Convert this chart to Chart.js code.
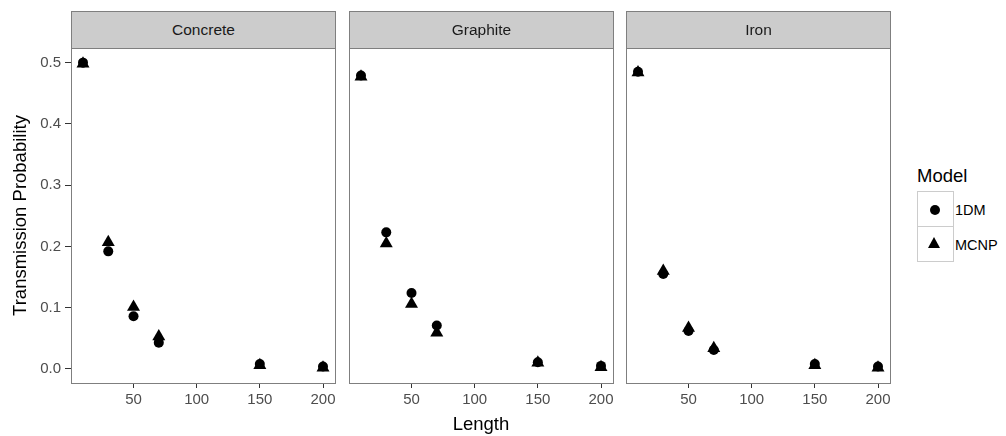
<!DOCTYPE html>
<html>
<head>
<meta charset="utf-8">
<script src="https://cdn.jsdelivr.net/npm/chart.js@4"></script>
<style>
  html, body { margin: 0; padding: 0; background: #fff; }
  #wrap { position: relative; width: 1006px; height: 436px; font-family: "Liberation Sans", Arial, sans-serif; }
  .panel { position: absolute; top: 0; height: 436px; }
  .strip { position: absolute; top: 11px; height: 38px; background: #CCCCCC; border: 1px solid #7F7F7F;
           box-sizing: border-box; color: #1A1A1A; font-size: 15.5px; line-height: 36px; text-align: center; }
  .leg-title { position: absolute; left: 917px; top: 166px; font-size: 18.5px; line-height: 20px; color: #000; }
  .leg-key { position: absolute; left: 917px; width: 37px; height: 36px; border: 1px solid #CCCCCC; box-sizing: border-box; background: #fff; }
  .leg-label { position: absolute; left: 955px; font-size: 14.5px; line-height: 16px; color: #000; }
  .dot { position: absolute; left: 930px; top: 205px; width: 10px; height: 10px; border-radius: 50%; background: #000; }
  .tri { position: absolute; left: 928px; top: 237px; width: 0; height: 0;
         border-left: 6.5px solid transparent; border-right: 6.5px solid transparent; border-bottom: 11px solid #000; }
</style>
</head>
<body>
<div id="wrap">
  <div class="panel" style="left:0px;width:345px"><canvas id="c1"></canvas></div>
  <div class="panel" style="left:339px;width:284px"><canvas id="c2"></canvas></div>
  <div class="panel" style="left:616px;width:284px"><canvas id="c3"></canvas></div>

  <div class="strip" style="left:71px;width:265px">Concrete</div>
  <div class="strip" style="left:349px;width:265px">Graphite</div>
  <div class="strip" style="left:626px;width:265px">Iron</div>

  <div class="leg-title">Model</div>
  <div class="leg-key" style="top:191px"></div>
  <div class="leg-key" style="top:226px"></div>
  <div class="dot"></div>
  <div class="tri"></div>
  <div class="leg-label" style="top:202px">1DM</div>
  <div class="leg-label" style="top:237px">MCNP</div>
</div>

<script>
// Data
const LENGTHS = [10, 30, 50, 70, 150, 200];
const X_TICKS = [50, 100, 150, 200];
const Y_TICKS = [0, 0.1, 0.2, 0.3, 0.4, 0.5];

const CONCRETE_1DM  = [0.500, 0.192, 0.086, 0.043, 0.008, 0.004];
const CONCRETE_MCNP = [0.498, 0.207, 0.101, 0.053, 0.006, 0.002];
const GRAPHITE_1DM  = [0.479, 0.223, 0.124, 0.071, 0.011, 0.005];
const GRAPHITE_MCNP = [0.477, 0.205, 0.106, 0.059, 0.010, 0.003];
const IRON_1DM      = [0.485, 0.155, 0.062, 0.031, 0.008, 0.004];
const IRON_MCNP     = [0.484, 0.160, 0.067, 0.034, 0.006, 0.002];

const FONT  = '"Liberation Sans", Arial, sans-serif';
const TICKC = '#4D4D4D';
const BORDER = '#7F7F7F';

Chart.defaults.font.family = FONT;
Chart.defaults.animation = false;

// panel border drawn over the points, like ggplot
const panelBorder = {
  id: 'panelBorder',
  afterDatasetsDraw(chart) {
    const a = chart.chartArea, ctx = chart.ctx;
    ctx.save();
    ctx.strokeStyle = BORDER;
    ctx.lineWidth = 1;
    ctx.strokeRect(a.left + 0.5, a.top + 0.5, a.right - a.left, a.bottom - a.top);
    ctx.restore();
  }
};

function pts(ys) {
  return LENGTHS.map((x, i) => ({ x: x, y: ys[i] }));
}

function makePanel(id, y1dm, ymcnp, opts) {
  return new Chart(document.getElementById(id), {
    type: 'scatter',
    data: {
      datasets: [
        { label: '1DM',  data: pts(y1dm),  pointStyle: 'circle',   pointRadius: 5,
          backgroundColor: '#000', borderWidth: 0, order: 1 },
        { label: 'MCNP', data: pts(ymcnp), pointStyle: 'triangle', pointRadius: 7.5,
          backgroundColor: '#000', borderWidth: 0, order: 0 }
      ]
    },
    options: {
      responsive: true,
      maintainAspectRatio: false,
      layout: { padding: opts.padding },
      plugins: { legend: { display: false }, tooltip: { enabled: false } },
      scales: {
        x: {
          type: 'linear', min: 0.5, max: 209.5,
          afterBuildTicks: s => { s.ticks = X_TICKS.map(v => ({ value: v })); },
          afterFit: s => { s.height = 53; },
          border: { display: false },
          grid: { drawOnChartArea: false, tickLength: 5, tickColor: '#333333', lineWidth: 1 },
          ticks: { color: TICKC, font: { size: 15 }, padding: 3, maxRotation: 0, callback: v => String(v) },
          title: { display: opts.xTitle, text: 'Length', color: '#000', font: { size: 18.5 }, padding: { top: 0, bottom: 0 } }
        },
        y: {
          type: 'linear', min: -0.0229, max: 0.5239,
          display: opts.showY,
          afterBuildTicks: s => { s.ticks = Y_TICKS.map(v => ({ value: v })); },
          afterFit: s => { s.width = opts.showY ? 71 : 0; },
          border: { display: false },
          grid: { drawOnChartArea: false, tickLength: 6, tickColor: '#333333', lineWidth: 1 },
          ticks: { color: TICKC, font: { size: 15 }, padding: 4, callback: v => v.toFixed(1) },
          title: { display: opts.showY, text: 'Transmission Probability', color: '#000', font: { size: 18.5 },
                   padding: { top: 10, bottom: 0 } }
        }
      }
    },
    plugins: [panelBorder]
  });
}

makePanel('c1', CONCRETE_1DM, CONCRETE_MCNP, { showY: true,  xTitle: false, padding: { left: 0,  right: 10, top: 48, bottom: 0 } });
makePanel('c2', GRAPHITE_1DM, GRAPHITE_MCNP, { showY: false, xTitle: true,  padding: { left: 10, right: 10, top: 48, bottom: 0 } });
makePanel('c3', IRON_1DM,     IRON_MCNP,     { showY: false, xTitle: false, padding: { left: 10, right: 10, top: 48, bottom: 0 } });
</script>
</body>
</html>
